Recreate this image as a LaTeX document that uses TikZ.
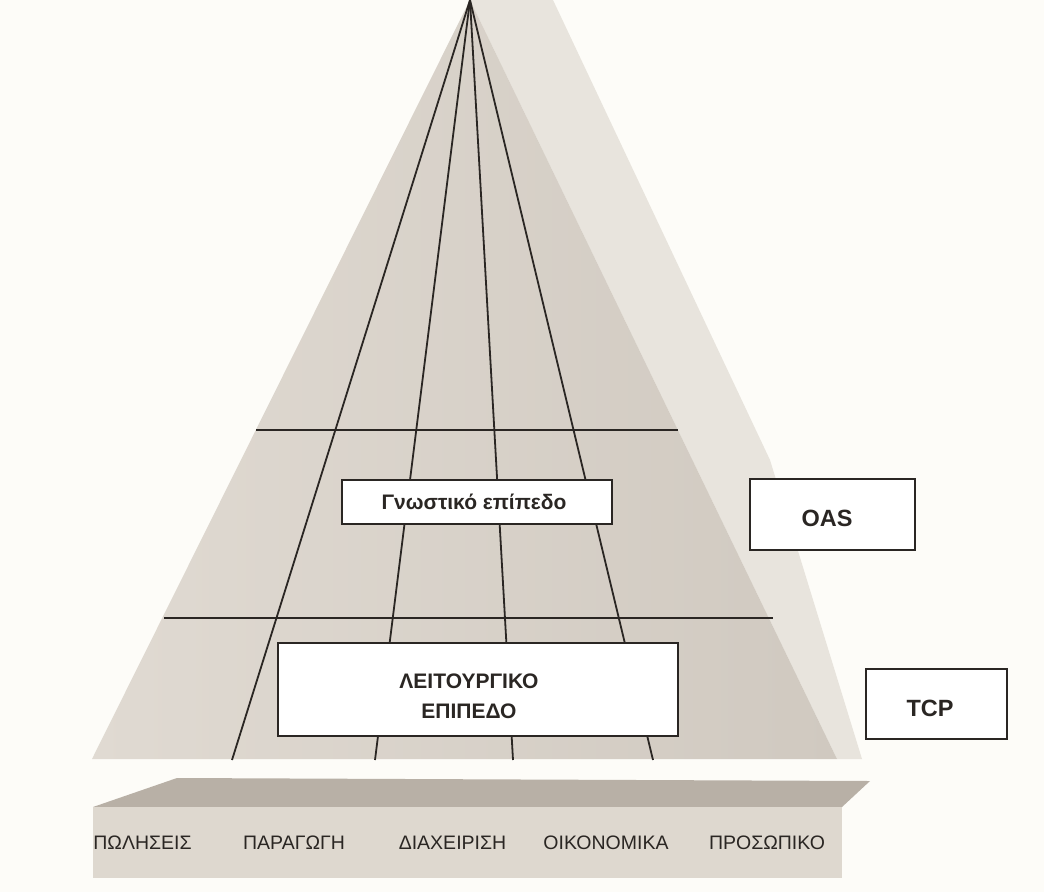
\documentclass[tikz,border=0pt]{standalone}
\usepackage{fontspec}
\setmainfont{Liberation Sans}
\definecolor{paper}{RGB}{253,252,248}
\definecolor{frontface}{RGB}{208,201,192}
\definecolor{frontlight}{RGB}{224,218,210}
\definecolor{sideface}{RGB}{232,228,221}
\definecolor{slabtop}{RGB}{184,176,166}
\definecolor{slabfront}{RGB}{222,216,207}
\definecolor{ink}{RGB}{42,38,35}
\begin{document}
\begin{tikzpicture}[x=1pt,y=-1pt,
  gridline/.style={draw=ink, line width=1.8pt},
  levelbox/.style={draw=ink, line width=1.8pt, fill=white, rectangle, inner sep=0pt},
  boxtext/.style={text=ink, font=\bfseries\fontsize{21}{25}\selectfont, align=center, inner sep=0pt},
  tagtext/.style={text=ink, font=\bfseries\fontsize{23.5}{26}\selectfont, inner sep=0pt},
  deptext/.style={text=ink, font=\fontsize{19.5}{22}\selectfont, inner sep=0pt}]
  % page
  \fill[paper] (0,0) rectangle (1044,892);
  \useasboundingbox (0,0) rectangle (1044,892);

  % pyramid: lit side face, then shaded front face
  \coordinate (apex) at (470,0);
  \fill[sideface] (apex) -- (553,0) -- (770,460) -- (862,759) -- (837,759) -- cycle;
  \shade[left color=frontlight, right color=frontface] (apex) -- (92,759) -- (837,759) -- cycle;

  % level separators
  \coordinate (h1l) at (256,430);
  \coordinate (h1r) at (678,430);
  \coordinate (h2l) at (164,618);
  \coordinate (h2r) at (773,618);
  \draw[gridline] (h1l) -- (h1r);
  \draw[gridline] (h2l) -- (h2r);

  % functional columns
  \coordinate (c1) at (232,760);
  \coordinate (c2) at (375,760);
  \coordinate (c3) at (513,760);
  \coordinate (c4) at (653,760);
  \foreach \c in {c1,c2,c3,c4} \draw[gridline] (apex) -- (\c);

  % level boxes
  \node[levelbox, minimum width=270pt, minimum height=44pt] (know) at (477,502) {};
  \node[boxtext] (knowtxt) at (474,502) {Γνωστικό επίπεδο};
  \node[levelbox, minimum width=400pt, minimum height=93pt] (oper) at (478,689.5) {};
  \node[boxtext] (opertxt) at (469,696) {ΛΕΙΤΟΥΡΓΙΚΟ\\[5pt]ΕΠΙΠΕΔΟ};

  \node[levelbox, minimum width=165pt, minimum height=71pt] (oas) at (832.5,514.5) {};
  \node[tagtext] (oastxt) at (827,518) {OAS};
  \node[levelbox, minimum width=141pt, minimum height=70pt] (tcp) at (936.5,704) {};
  \node[tagtext] (tcptxt) at (930,708) {TCP};

  % base slab
  \fill[slabtop] (177,778) -- (870,781) -- (842,807) -- (93,807) -- cycle;
  \fill[slabfront] (93,807) rectangle (842,878);
  \node[deptext] (d1) at (142.5,843) {ΠΩΛΗΣΕΙΣ};
  \node[deptext] (d2) at (294,843) {ΠΑΡΑΓΩΓΗ};
  \node[deptext] (d3) at (452.5,843) {ΔΙΑΧΕΙΡΙΣΗ};
  \node[deptext] (d4) at (606,843) {ΟΙΚΟΝΟΜΙΚΑ};
  \node[deptext] (d5) at (767,843) {ΠΡΟΣΩΠΙΚΟ};
\end{tikzpicture}
\end{document}
